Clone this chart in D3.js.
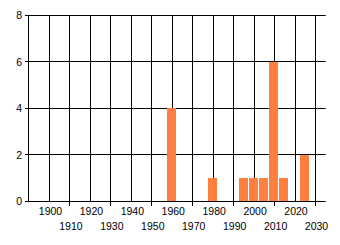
<!DOCTYPE html>
<html>
<head>
<meta charset="utf-8">
<script src="https://cdn.jsdelivr.net/npm/d3@7"></script>
<style>
  body { margin: 0; background: #fff; }
  text { font-family: "Liberation Sans", Arial, sans-serif; font-size: 10.5px; fill: #000; }
</style>
</head>
<body>
<div id="chart"></div>
<script>
const years = [1960, 1980, 1995, 2000, 2005, 2010, 2015, 2025];
const counts = [4, 1, 1, 1, 1, 6, 1, 2];
const xTicks = [1900, 1910, 1920, 1930, 1940, 1950, 1960, 1970, 1980, 1990, 2000, 2010, 2020, 2030];
const yTicks = [0, 2, 4, 6, 8];

const W = 340, H = 245;
const LEFT = 28, RIGHT = 325.7, TOP = 15, BOTTOM = 201;

const svg = d3.select('#chart').append('svg')
  .attr('width', W)
  .attr('height', H);

const x = d3.scaleLinear().domain([1889.5, 2035]).range([LEFT, RIGHT]);
const y = d3.scaleLinear().domain([0, 8]).range([BOTTOM, TOP]);

const px = v => Math.floor(v) + 0.5;

// horizontal grid lines (with the small tick on the left)
svg.append('g').selectAll('line')
  .data(yTicks)
  .join('line')
  .attr('x1', LEFT - 3)
  .attr('x2', RIGHT)
  .attr('y1', d => px(y(d)))
  .attr('y2', d => px(y(d)))
  .attr('stroke', '#000');

// vertical grid lines, odd decades poke below the axis
svg.append('g').selectAll('line')
  .data(xTicks)
  .join('line')
  .attr('x1', d => px(x(d)))
  .attr('x2', d => px(x(d)))
  .attr('y1', TOP)
  .attr('y2', (d, i) => i % 2 ? BOTTOM + 5 : BOTTOM)
  .attr('stroke', '#000');

// left axis line
svg.append('line')
  .attr('x1', LEFT + 0.5).attr('x2', LEFT + 0.5)
  .attr('y1', TOP).attr('y2', BOTTOM + 1)
  .attr('stroke', '#000');

// bars
const halfW = 2.1;
svg.append('g').selectAll('rect')
  .data(years.map((yr, i) => ({ yr, n: counts[i] })))
  .join('rect')
  .attr('x', d => Math.round(x(d.yr - halfW)) - 1)
  .attr('width', d => Math.round(x(d.yr + halfW) - x(d.yr - halfW)))
  .attr('y', d => Math.round(y(d.n)))
  .attr('height', d => Math.round(y(0)) - Math.round(y(d.n)))
  .attr('fill', '#ff7f40');

// y labels
const yAxis = d3.axisLeft(y).tickValues(yTicks).tickSize(0).tickPadding(0);
svg.append('g')
  .attr('transform', `translate(${LEFT - 6},0.5)`)
  .call(yAxis)
  .call(g => g.select('.domain').remove())
  .selectAll('text')
  .style('font-size', '10.5px')
  .style('font-family', '"Liberation Sans", Arial, sans-serif');

// x labels in two staggered rows
const xAxis = d3.axisBottom(x).tickValues(xTicks).tickSize(0).tickFormat(d3.format('d'));
svg.append('g')
  .attr('transform', `translate(0.5,${BOTTOM})`)
  .call(xAxis)
  .call(g => g.select('.domain').remove())
  .selectAll('text')
  .attr('dy', null)
  .attr('y', (d, i) => i % 2 ? 28.5 : 13.5)
  .style('font-size', '10.5px')
  .style('font-family', '"Liberation Sans", Arial, sans-serif');
</script>
</body>
</html>
